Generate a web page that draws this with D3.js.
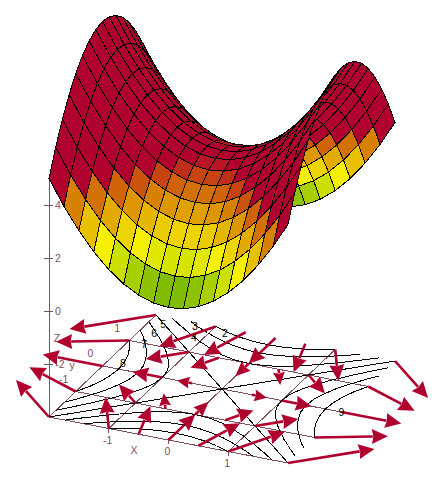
<!DOCTYPE html>
<html><head><meta charset="utf-8">
<script src="https://cdn.jsdelivr.net/npm/d3@7"></script>
<style>html,body{margin:0;padding:0;background:#fff}svg{display:block}text{font-family:"Liberation Sans",Arial,sans-serif;font-size:10.5px}</style>
</head><body><div id="c"></div>
<script>
const xGrid = [-2,-1.75,-1.5,-1.25,-1,-0.75,-0.5,-0.25,0,0.25,0.5,0.75,1,1.25,1.5,1.75,2];
const yGrid = [-2,-1.75,-1.5,-1.25,-1,-0.75,-0.5,-0.25,0,0.25,0.5,0.75,1,1.25,1.5,1.75,2];
const zGrid = [
[5,4.06,3.25,2.56,2,1.56,1.25,1.06,1,1.06,1.25,1.56,2,2.56,3.25,4.06,5],
[5.94,5,4.19,3.5,2.94,2.5,2.19,2,1.94,2,2.19,2.5,2.94,3.5,4.19,5,5.94],
[6.75,5.81,5,4.31,3.75,3.31,3,2.81,2.75,2.81,3,3.31,3.75,4.31,5,5.81,6.75],
[7.44,6.5,5.69,5,4.44,4,3.69,3.5,3.44,3.5,3.69,4,4.44,5,5.69,6.5,7.44],
[8,7.06,6.25,5.56,5,4.56,4.25,4.06,4,4.06,4.25,4.56,5,5.56,6.25,7.06,8],
[8.44,7.5,6.69,6,5.44,5,4.69,4.5,4.44,4.5,4.69,5,5.44,6,6.69,7.5,8.44],
[8.75,7.81,7,6.31,5.75,5.31,5,4.81,4.75,4.81,5,5.31,5.75,6.31,7,7.81,8.75],
[8.94,8,7.19,6.5,5.94,5.5,5.19,5,4.94,5,5.19,5.5,5.94,6.5,7.19,8,8.94],
[9,8.06,7.25,6.56,6,5.56,5.25,5.06,5,5.06,5.25,5.56,6,6.56,7.25,8.06,9],
[8.94,8,7.19,6.5,5.94,5.5,5.19,5,4.94,5,5.19,5.5,5.94,6.5,7.19,8,8.94],
[8.75,7.81,7,6.31,5.75,5.31,5,4.81,4.75,4.81,5,5.31,5.75,6.31,7,7.81,8.75],
[8.44,7.5,6.69,6,5.44,5,4.69,4.5,4.44,4.5,4.69,5,5.44,6,6.69,7.5,8.44],
[8,7.06,6.25,5.56,5,4.56,4.25,4.06,4,4.06,4.25,4.56,5,5.56,6.25,7.06,8],
[7.44,6.5,5.69,5,4.44,4,3.69,3.5,3.44,3.5,3.69,4,4.44,5,5.69,6.5,7.44],
[6.75,5.81,5,4.31,3.75,3.31,3,2.81,2.75,2.81,3,3.31,3.75,4.31,5,5.81,6.75],
[5.94,5,4.19,3.5,2.94,2.5,2.19,2,1.94,2,2.19,2.5,2.94,3.5,4.19,5,5.94],
[5,4.06,3.25,2.56,2,1.56,1.25,1.06,1,1.06,1.25,1.56,2,2.56,3.25,4.06,5]
];
const contourLevels = [2,3,4,5,6,7,8];
const contourLabels = [["2",-0.78,1.85],["3",-1.30,1.89],["4",-1.15,1.52],["5",-1.77,1.75],["6",-1.76,1.40],["7",-1.74,0.98],["8",-1.76,0.23],["9",2,0]];
const arrowXs = [-2,-1,-0.5,0,0.5,1,2];
const arrowYs = [-2,-1,0,1,2];
const arrowU = [-1,-0.5,-0.25,0,0.25,0.5,1];
const arrowV = [1,0.5,0,-0.5,-1];
const xTicks = [-1,0,1];
const yTicks = [-1,0,1];
const zTicks = [-2,0,2,4];
const gridXs = [-1,0,1];
const gridYs = [-1,0,1];
const colorZ = [1.5,1.875,2.25,2.75,3.375,4.125,4.6,5];
const colorC = ["#80bc00","#a8d000","#cce000","#f4f000","#e8c000","#d88000","#c84810","#b0002e"];
const axisColor = "#7f4f63", arrowColor = "#b0002e";

const W=446,H=484,ox=49,oy=417;
const xPx=d3.scaleLinear([-2,2],[0,239]), xPy=d3.scaleLinear([-2,2],[0,46]);
const yPx=d3.scaleLinear([-2,2],[0,107]), yPy=d3.scaleLinear([-2,2],[0,-102]);
const zPy=d3.scaleLinear([-4,4],[0,-212]);
const color=d3.scaleLinear(colorZ,colorC).clamp(true);
const P=(x,y,z=-4)=>[ox+xPx(x)+yPx(y), oy+xPy(x)+yPy(y)+zPy(z)];
const svg=d3.select("#c").append("svg").attr("width",W).attr("height",H);
const line=d3.line();
const crisp=g=>g.attr("shape-rendering","crispEdges");

// floor grid and axes
const floor=svg.append("g").call(crisp).attr("stroke",axisColor).attr("fill","none");
const seg=(a,b)=>floor.append("path").attr("d",line([a,b]));
seg(P(-2,-2),P(2,-2)); seg(P(-2,-2),P(-2,2));
seg(P(-2,-2,-4),P(-2,-2,5));
gridXs.forEach(x=>seg(P(x,-2),P(x,2)));
gridYs.forEach(y=>seg(P(-2,y),P(2,y)));
zTicks.forEach(z=>{const p=P(-2,-2,z);seg([p[0]-5,p[1]],[p[0]+4,p[1]]);});
xTicks.forEach(x=>{const p=P(x,-2);seg([p[0],p[1]-2],[p[0],p[1]+4]);});
yTicks.forEach(y=>seg(P(-2.07,y),P(-1.9,y)));

// contours from the table
const cg=svg.append("g").call(crisp).attr("stroke","#000").attr("fill","none");
contourLevels.forEach(l=>{
  let d="";
  for(let j=0;j<16;j++)for(let i=0;i<16;i++){
    const c=[[i,j],[i+1,j],[i+1,j+1],[i,j+1]];
    const pts=[];
    for(let k=0;k<4;k++){
      const a=c[k],b=c[(k+1)%4],va=zGrid[a[1]][a[0]],vb=zGrid[b[1]][b[0]];
      if((va>=l)!==(vb>=l)){
        const t=(l-va)/(vb-va);
        pts.push(P(xGrid[a[0]]+t*(xGrid[b[0]]-xGrid[a[0]]),yGrid[a[1]]+t*(yGrid[b[1]]-yGrid[a[1]])));
      }
    }
    for(let k=0;k+1<pts.length;k+=2)d+=line([pts[k],pts[k+1]]);
  }
  cg.append("path").attr("d",d);
});

// axis labels
const lab=(t,x,y)=>svg.append("text").attr("x",x).attr("y",y).attr("text-anchor","middle").attr("fill",axisColor).text(t);
zTicks.forEach(z=>{const p=P(-2,-2,z);lab(z,p[0]+(z<0?11:9),p[1]+4);});
xTicks.forEach(x=>{const p=P(x,-2);lab(x,p[0]-1,p[1]+15);});
yTicks.forEach(y=>{const p=P(-2,y);lab(y,p[0]-12,p[1]-9);});
lab("Z",57,342); lab("y",72,369); lab("X",134,454);

// arrows
const ag=svg.append("g");
arrowYs.forEach((y,j)=>arrowXs.forEach((x,i)=>{
  const u=arrowU[i],v=arrowV[j];
  if(u===0&&v===0)return;
  const a=P(x,y),b=P(x+u,y+v);
  const dx=b[0]-a[0],dy=b[1]-a[1],L=Math.hypot(dx,dy),ux=dx/L,uy=dy/L;
  const hl=Math.min(15,L*0.75),hw=Math.min(7.5,Math.max(6,L*0.35));
  const base=[b[0]-ux*hl,b[1]-uy*hl];
  ag.append("path").attr("d",line([a,base])).attr("stroke",arrowColor).attr("stroke-width",2.6).attr("fill","none");
  ag.append("path").attr("fill",arrowColor).attr("d",line([
    b,[base[0]-ux*1-uy*hw,base[1]-uy*1+ux*hw],[base[0]+ux*0.5,base[1]+uy*0.5],[base[0]-ux*1+uy*hw,base[1]-uy*1-ux*hw]
  ])+"Z");
}));

contourLabels.forEach(([t,x,y])=>{const p=P(x,y);
  svg.append("text").attr("x",p[0]).attr("y",p[1]+4).attr("text-anchor","middle").attr("fill","#000").text(t);});

// surface: far to near
const cells=[];
for(let j=0;j<16;j++)for(let i=0;i<16;i++)cells.push([i,j]);
const depth=([i,j])=>P(xGrid[i]+0.125,yGrid[j]+0.125)[1];
cells.sort((a,b)=>depth(a)-depth(b));
const sg=svg.append("g").call(crisp);
sg.selectAll("path").data(cells).join("path")
 .attr("d",([i,j])=>line([[i,j],[i+1,j],[i+1,j+1],[i,j+1]].map(([a,b])=>P(xGrid[a],yGrid[b],zGrid[b][a])))+"Z")
 .attr("fill",([i,j])=>color((zGrid[j][i]+zGrid[j][i+1]+zGrid[j+1][i]+zGrid[j+1][i+1])/4))
 .attr("stroke","#000").attr("stroke-width",1);
</script></body></html>
